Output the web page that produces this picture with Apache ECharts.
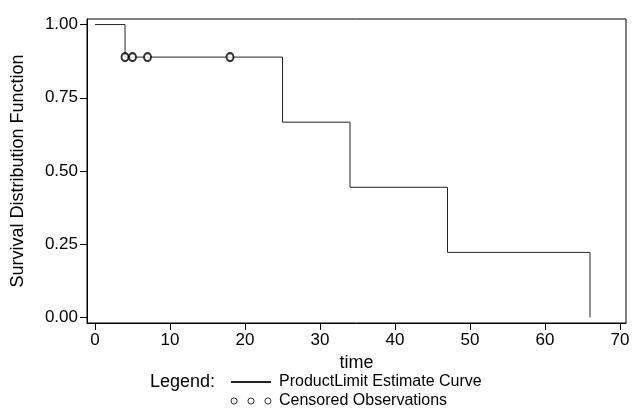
<!DOCTYPE html>
<html>
<head>
<meta charset="utf-8">
<script src="https://cdn.jsdelivr.net/npm/echarts@6/dist/echarts.min.js"></script>
<style>
  html, body { margin: 0; padding: 0; background: #fff; }
  #main { width: 634px; height: 420px; }
</style>
</head>
<body>
<div id="main"></div>
<script>
// product-limit estimate (step points)
var stepTimes = [0, 4, 25, 34, 47, 66];
var stepSurvival = [1.0, 0.8889, 0.6667, 0.4444, 0.2222, 0.0];
// censored observations
var censorTimes = [4, 5, 7, 18];
var censorSurvival = [0.8889, 0.8889, 0.8889, 0.8889];
// ticks
var xTicks = [0, 10, 20, 30, 40, 50, 60, 70];
var yTicks = [0, 0.25, 0.5, 0.75, 1.0];

var font = 'Liberation Sans, Arial, sans-serif';

var chart = echarts.init(document.getElementById('main'));

var curveData = stepTimes.map(function (t, i) { return [t, stepSurvival[i]]; });
var censorData = censorTimes.map(function (t, i) { return [t, censorSurvival[i]]; });

var option = {
    animation: false,
    backgroundColor: '#fff',
    textStyle: { fontFamily: font, color: '#000' },
    title: {
        text: 'Legend:',
        left: 150,
        top: 373,
        padding: 0,
        textStyle: { fontFamily: font, fontSize: 18, fontWeight: 'normal', color: '#000' }
    },
    legend: {
        orient: 'vertical',
        left: 230,
        top: 374,
        padding: 0,
        itemWidth: 40,
        itemHeight: 8,
        itemGap: 3,
        selectedMode: false,
        textStyle: { fontFamily: font, fontSize: 16, color: '#000', padding: [0, 0, 0, 3] },
        data: [
            {
                name: 'ProductLimit Estimate Curve',
                itemStyle: { opacity: 0 }
            },
            {
                name: 'Censored Observations',
                icon: 'path://M0.5,4a3,3 0 1,0 6,0a3,3 0 1,0 -6,0ZM17,4a3,3 0 1,0 6,0a3,3 0 1,0 -6,0ZM33.5,4a3,3 0 1,0 6,0a3,3 0 1,0 -6,0Z',
                itemStyle: { color: 'transparent', borderColor: '#000', borderWidth: 1 }
            }
        ]
    },
    grid: {
        left: 87,
        right: 8,
        top: 19,
        bottom: 97,
        show: true,
        borderColor: '#000',
        borderWidth: 1
    },
    xAxis: {
        type: 'value',
        min: -1.07,
        max: 70.8,
        name: 'time',
        nameLocation: 'middle',
        nameGap: 28,
        nameTextStyle: { fontFamily: font, fontSize: 18, color: '#000' },
        axisLine: { show: true, onZero: false, lineStyle: { color: '#000', width: 1 } },
        axisTick: { show: true, length: 7, customValues: xTicks, lineStyle: { color: '#000' } },
        axisLabel: { customValues: xTicks, margin: 9, fontFamily: font, fontSize: 17, color: '#000' },
        splitLine: { show: false }
    },
    yAxis: {
        type: 'value',
        min: -0.019,
        max: 1.019,
        name: 'Survival Distribution Function',
        nameLocation: 'middle',
        nameGap: 60,
        nameRotate: 90,
        nameTextStyle: { fontFamily: font, fontSize: 18, color: '#000' },
        axisLine: { show: true, onZero: false, lineStyle: { color: '#000', width: 1 } },
        axisTick: { show: true, length: 7, customValues: yTicks, lineStyle: { color: '#000' } },
        axisLabel: {
            customValues: yTicks,
            margin: 9,
            fontFamily: font,
            fontSize: 17,
            color: '#000',
            formatter: function (v) { return v.toFixed(2); }
        },
        splitLine: { show: false }
    },
    series: [
        {
            name: 'ProductLimit Estimate Curve',
            type: 'line',
            step: 'end',
            data: curveData,
            symbol: 'none',
            lineStyle: { color: '#222', width: 1 },
            itemStyle: { color: '#222' }
        },
        {
            name: 'Censored Observations',
            type: 'scatter',
            data: censorData,
            symbol: 'emptyCircle',
            symbolSize: [7, 8],
            itemStyle: { color: '#000', borderWidth: 1 },
            z: 3
        }
    ]
};

chart.setOption(option);
</script>
</body>
</html>
